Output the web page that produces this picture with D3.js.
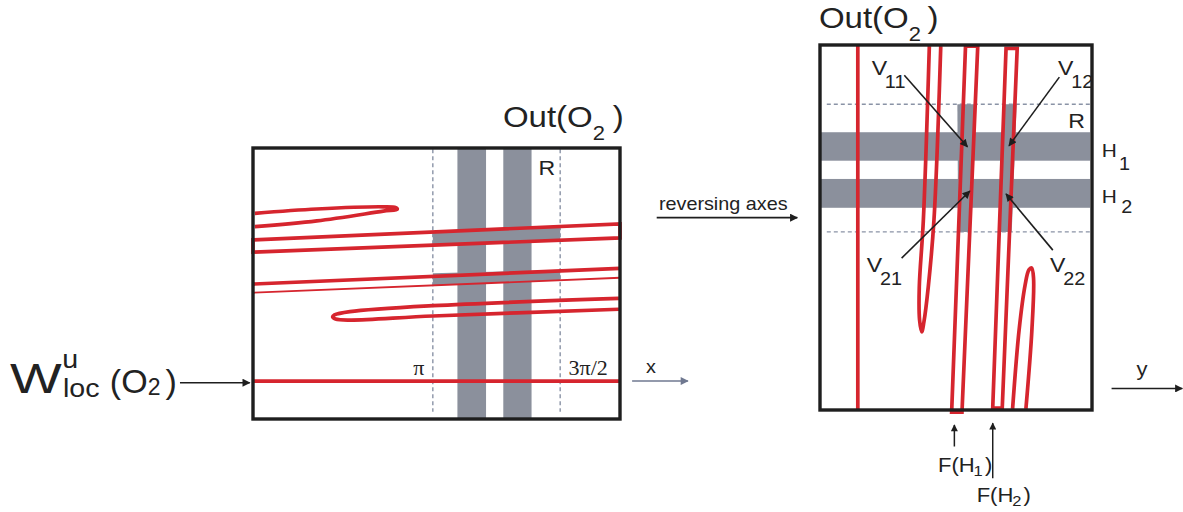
<!DOCTYPE html>
<html>
<head>
<meta charset="utf-8">
<script src="https://cdn.jsdelivr.net/npm/d3@7"></script>
<style>
  body { margin: 0; background: #fff; }
  svg { display: block; }
</style>
</head>
<body>
<svg id="fig" width="1183" height="512"></svg>
<script>
'use strict';

// ---- left panel (units: percent of the box, y up) ----
const leftGuides = [49, 83.7];              // dashed verticals at pi and 3pi/2
const leftGuideLabels = ['π', '3π/2'];
const leftBars = [[55.7, 63.5], [68.2, 75.9]];   // gray vertical bars (x from, x to)
const leftStrips = [
    [[49, 69.0], [83.7, 71.0], [83.7, 65.9], [49, 64.1]],
    [[49, 53.8], [83.7, 55.0], [83.7, 51.2], [49, 49.3]]
];
const foldTop = [[0.5, 75.9], [17.4, 77.5], [35.5, 78.3], [38.9, 78.0], [39.3, 77.4], [35.5, 76.7], [17.4, 73.1], [0.5, 71.0]];
const bandRect = [[0, 66.1], [100, 72.0], [100, 66.8], [0, 61.6]];
const pairThick = [[0, 49.8], [100, 55.6]];
const pairThin = [[0, 46.6], [100, 52.1]];
const foldLow = [[99.7, 44.5], [49, 41.8], [26.4, 39.6], [22.2, 38.4], [21.7, 37.7], [22.5, 36.9], [26.4, 36.5], [49, 38.0], [99.7, 40.5]];
const wLoc = [[0, 14.0], [100, 14.0]];

// ---- right panel (units: percent of the box, y up) ----
const rightGuides = [48.8, 83.75];          // dashed horizontals
const hBars = [[68.3, 76.1], [55.4, 63.3]];   // H1, H2 (y from, y to)
const hNames = ['1', '2'];
const vStrips = [
    [[50.5, 83.75], [57.0, 83.75], [55.1, 48.8], [50.8, 48.8]],
    [[67.4, 83.75], [72.3, 83.75], [70.5, 48.8], [65.6, 48.8]]
];
const rightLine = [[13.9, 0], [13.9, 99.8]];
const foldA = [[40.2, 99.7], [38.0, 52.1], [36.5, 33.7], [36.6, 24.7], [37.4, 21.4], [38.2, 24.1], [39.8, 33.7], [41.9, 52.1], [44.4, 99.7]];
const pairA = [[48.4, -0.6], [53.5, 99.7], [58.0, 99.7], [52.2, -0.6]];
const pairB = [[63.5, 0.5], [68.4, 99.1], [72.5, 99.1], [67.0, 0.5]];
const foldC = [[70.8, 0.3], [73.2, 21.9], [75.4, 34.2], [76.8, 38.4], [77.8, 38.9], [78.5, 36.2], [77.9, 21.9], [75.7, 0.3]];

const vNames = ['11', '12', '21', '22'];
const vArrows = [
    [[31.0, 91.7], [54.2, 72.1]],
    [[88.0, 91.2], [69.5, 72.4]],
    [[30.0, 41.6], [55.1, 60.0]],
    [[85.6, 43.8], [68.4, 59.2]]
];
const vLabelAt = [[19.0, 91.8], [87.5, 91.8], [17.2, 37.8], [84.6, 37.8]];
const fArrows = [
    [[49.4, -10.0], [49.4, -4.1]],
    [[63.5, -18.7], [63.5, -3.6]]
];
const fLabelAt = [[43.4, -17.0], [57.6, -25.1]];

// ---- scales ----
const xL = d3.scaleLinear().domain([0, 100]).range([253, 620]);
const yL = d3.scaleLinear().domain([0, 100]).range([419, 148]);
const xR = d3.scaleLinear().domain([0, 100]).range([820, 1092]);
const yR = d3.scaleLinear().domain([0, 100]).range([410, 45]);

const red = '#d6252e';
const gray = '#8b909c';
const dash = '#8a93a6';
const ink = '#1e1e1e';
const sans = '"Liberation Sans", Arial, sans-serif';
const serif = '"Liberation Serif", "Times New Roman", serif';
const thick = 3.7;

const svg = d3.select('#fig');
svg.append('rect').attr('width', 1183).attr('height', 512).attr('fill', '#fff');

const defs = svg.append('defs');
function marker(id, color, w, h) {
    defs.append('marker')
        .attr('id', id)
        .attr('viewBox', '0 0 10 10')
        .attr('refX', 9).attr('refY', 5)
        .attr('markerWidth', w).attr('markerHeight', h)
        .attr('markerUnits', 'userSpaceOnUse')
        .attr('orient', 'auto')
        .append('path')
            .attr('d', 'M0,0L10,5L0,10z')
            .attr('fill', color);
}
marker('ah', ink, 11, 8);
marker('ahs', ink, 9, 7);
marker('ahg', '#6f7890', 10, 8);

function addText(x, y, parts, size, opts = {}) {
    const t = svg.append('text')
        .attr('transform', `translate(${x},${y}) scale(${opts.stretch || 1.1},1)`)
        .attr('font-family', opts.family || sans)
        .attr('font-size', size)
        .attr('fill', '#222')
        .attr('text-anchor', opts.anchor || 'start');
    parts.forEach(p => {
        const s = t.append('tspan').text(p.t);
        if (p.size) s.attr('font-size', p.size);
        if (p.dx) s.attr('dx', p.dx);
        if (p.dy) s.attr('dy', p.dy);
    });
    return t;
}

function arrow(x1, y1, x2, y2, id, color, width) {
    svg.append('line')
        .attr('x1', x1).attr('y1', y1)
        .attr('x2', x2).attr('y2', y2)
        .attr('stroke', color)
        .attr('stroke-width', width)
        .attr('marker-end', `url(#${id})`);
}

// ================= left panel =================
const gl = svg.append('g');

gl.selectAll('rect.bar')
    .data(leftBars)
    .join('rect')
        .attr('class', 'bar')
        .attr('x', d => xL(d[0]))
        .attr('width', d => xL(d[1]) - xL(d[0]))
        .attr('y', yL(100))
        .attr('height', yL(0) - yL(100))
        .attr('fill', gray);

const polyL = d3.line().x(d => xL(d[0])).y(d => yL(d[1])).curve(d3.curveLinearClosed);
gl.selectAll('path.strip')
    .data(leftStrips)
    .join('path')
        .attr('class', 'strip')
        .attr('d', polyL)
        .attr('fill', gray);

gl.selectAll('line.guide')
    .data(leftGuides)
    .join('line')
        .attr('class', 'guide')
        .attr('x1', d => xL(d)).attr('x2', d => xL(d))
        .attr('y1', yL(99.5)).attr('y2', yL(2.7))
        .attr('stroke', dash)
        .attr('stroke-width', 1.4)
        .attr('stroke-dasharray', '4,3');

const curveL = d3.line().x(d => xL(d[0])).y(d => yL(d[1])).curve(d3.curveCatmullRom.alpha(0.5));
const straightL = d3.line().x(d => xL(d[0])).y(d => yL(d[1]));

gl.append('path').attr('d', curveL(foldTop)).attr('fill', 'none').attr('stroke', red).attr('stroke-width', thick);
gl.append('path').attr('d', polyL(bandRect)).attr('fill', 'none').attr('stroke', red).attr('stroke-width', thick);
gl.append('path').attr('d', straightL(pairThick)).attr('fill', 'none').attr('stroke', red).attr('stroke-width', thick);
gl.append('path').attr('d', straightL(pairThin)).attr('fill', 'none').attr('stroke', red).attr('stroke-width', 1.9);
gl.append('path').attr('d', curveL(foldLow)).attr('fill', 'none').attr('stroke', red).attr('stroke-width', thick);
gl.append('path').attr('d', straightL(wLoc)).attr('fill', 'none').attr('stroke', red).attr('stroke-width', thick);

gl.append('rect')
    .attr('x', xL(0)).attr('y', yL(100))
    .attr('width', xL(100) - xL(0)).attr('height', yL(0) - yL(100))
    .attr('fill', 'none').attr('stroke', ink).attr('stroke-width', 3.4);

leftGuideLabels.forEach((t, i) => {
    addText(xL(leftGuides[i]) + (i === 0 ? -14 : 28), yL(16.4), [{ t }], 22, { family: serif, anchor: 'middle', stretch: 1 });
});
addText(xL(77.8), yL(90.0), [{ t: 'R' }], 21);
addText(xL(68.1), yL(107.9), [{ t: 'Out(O' }, { t: '2', size: 20, dy: 13 }, { t: ')', dx: 7, dy: -13 }], 30);

// x direction
arrow(xL(103.3), yL(14.0), xL(118.5), yL(14.0), 'ahg', '#6f7890', 1.6);
addText(xL(108.4), yL(17.0), [{ t: 'x' }], 18, { anchor: 'middle' });

// W^u_loc label
addText(xL(-66.2), yL(9.6), [{ t: 'W' }], 42).attr('textLength', 47).attr('lengthAdjust', 'spacingAndGlyphs');
addText(xL(-52.0), yL(18.8), [{ t: 'u' }], 26);
addText(xL(-51.8), yL(8.1), [{ t: 'loc' }], 26);
addText(xL(-39.0), yL(9.6), [{ t: '(O' }, { t: '2', size: 23, dy: 2 }, { t: ')', dx: 5, dy: -2 }], 34, { stretch: 1 });
arrow(xL(-19.9), yL(13.4), xL(-0.9), yL(13.4), 'ah', ink, 1.6);

// reversing axes
addText(xL(110.6), yL(77.1), [{ t: 'reversing axes' }], 18);
arrow(xL(110.0), yL(74.3), xL(148.3), yL(74.3), 'ah', ink, 1.7);

// ================= right panel =================
const gr = svg.append('g');

gr.selectAll('rect.hbar')
    .data(hBars)
    .join('rect')
        .attr('class', 'hbar')
        .attr('x', xR(0))
        .attr('width', xR(99.3) - xR(0))
        .attr('y', d => yR(d[1]))
        .attr('height', d => yR(d[0]) - yR(d[1]))
        .attr('fill', gray);

const polyR = d3.line().x(d => xR(d[0])).y(d => yR(d[1])).curve(d3.curveLinearClosed);
gr.selectAll('path.vstrip')
    .data(vStrips)
    .join('path')
        .attr('class', 'vstrip')
        .attr('d', polyR)
        .attr('fill', gray);

gr.selectAll('line.guide')
    .data(rightGuides)
    .join('line')
        .attr('class', 'guide')
        .attr('y1', d => yR(d)).attr('y2', d => yR(d))
        .attr('x1', xR(2.5)).attr('x2', xR(100))
        .attr('stroke', dash)
        .attr('stroke-width', 1.4)
        .attr('stroke-dasharray', '4,3');

const curveR = d3.line().x(d => xR(d[0])).y(d => yR(d[1])).curve(d3.curveCatmullRom.alpha(0.5));
const straightR = d3.line().x(d => xR(d[0])).y(d => yR(d[1]));

gr.append('path').attr('d', straightR(rightLine)).attr('fill', 'none').attr('stroke', red).attr('stroke-width', thick);
gr.append('path').attr('d', curveR(foldA)).attr('fill', 'none').attr('stroke', red).attr('stroke-width', thick);
gr.append('path').attr('d', polyR(pairA)).attr('fill', 'none').attr('stroke', red).attr('stroke-width', thick);
gr.append('path').attr('d', polyR(pairB)).attr('fill', 'none').attr('stroke', red).attr('stroke-width', thick);
gr.append('path').attr('d', curveR(foldC)).attr('fill', 'none').attr('stroke', red).attr('stroke-width', thick);

gr.append('rect')
    .attr('x', xR(0)).attr('y', yR(100))
    .attr('width', xR(100) - xR(0)).attr('height', yR(0) - yR(100))
    .attr('fill', 'none').attr('stroke', ink).attr('stroke-width', 3.4);

vArrows.forEach(a => arrow(xR(a[0][0]), yR(a[0][1]), xR(a[1][0]), yR(a[1][1]), 'ah', ink, 1.6));
vNames.forEach((n, i) => {
    addText(xR(vLabelAt[i][0]), yR(vLabelAt[i][1]), [{ t: 'V' }, { t: n, size: 18, dx: -2, dy: 13 }], 21);
});

hNames.forEach((n, i) => {
    const yb = i === 0 ? 69.2 : 56.7;
    addText(xR(103.6), yR(yb), [{ t: 'H' }, { t: n, size: 18, dx: i === 0 ? 2 : 4, dy: i === 0 ? 13 : 10 }], 19);
});
addText(xR(91.3), yR(77.2), [{ t: 'R' }], 21);
addText(xR(-0.4), yR(104.6), [{ t: 'Out(O' }, { t: '2', size: 20, dy: 13 }, { t: ')', dx: 6, dy: -13 }], 30);

// y direction
arrow(xR(107.2), yR(5.9), xR(133.2), yR(5.9), 'ah', ink, 1.6);
addText(xR(118.4), yR(9.3), [{ t: 'y' }], 20, { anchor: 'middle' });

// F(H) markers under the box
fArrows.forEach(a => arrow(xR(a[0][0]), yR(a[0][1]), xR(a[1][0]), yR(a[1][1]), 'ahs', ink, 1.5));
hNames.forEach((n, i) => {
    addText(xR(fLabelAt[i][0]), yR(fLabelAt[i][1]), [{ t: 'F(H' }, { t: n, size: 15, dx: -1, dy: 4 }, { t: ')', dx: 2, dy: -4 }], 20);
});
</script>
</body>
</html>
